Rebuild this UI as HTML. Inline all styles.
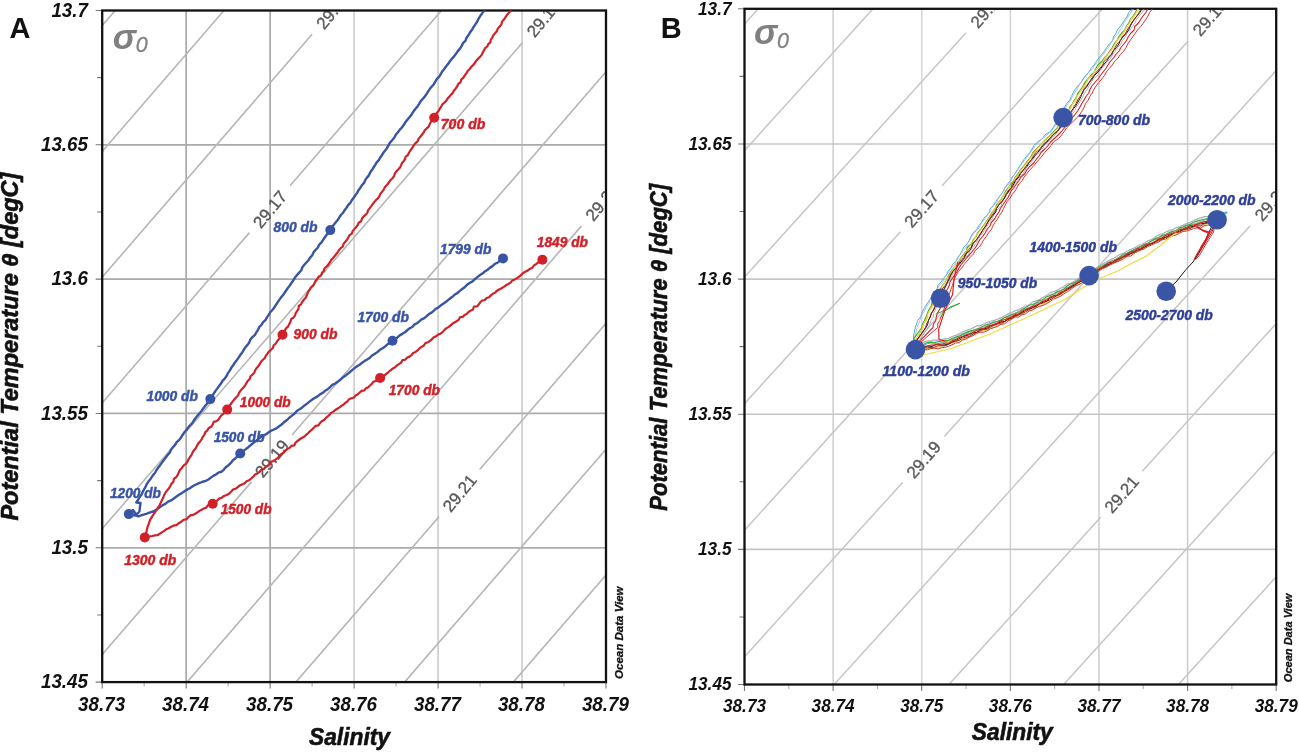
<!DOCTYPE html><html><head><meta charset="utf-8"><style>html,body{margin:0;padding:0;background:#fff;}svg{display:block;will-change:transform;}text{font-family:"Liberation Sans", sans-serif;}</style></head><body>
<svg width="1299" height="752" viewBox="0 0 1299 752">
<rect width="1299" height="752" fill="#fff"/>
<defs><clipPath id="clipA"><rect x="102.2" y="10.5" width="503.8" height="671.6"/></clipPath></defs>
<path d="M186.17 10.5V682.1" stroke="#acacac" stroke-width="1.8" fill="none"/>
<path d="M270.13 10.5V682.1" stroke="#acacac" stroke-width="1.8" fill="none"/>
<path d="M354.1 10.5V682.1" stroke="#cacaca" stroke-width="1.5" fill="none"/>
<path d="M438.07 10.5V682.1" stroke="#c8c8c8" stroke-width="1.5" fill="none"/>
<path d="M522.03 10.5V682.1" stroke="#c8c8c8" stroke-width="1.5" fill="none"/>
<path d="M102.2 144.82H606" stroke="#ababab" stroke-width="1.8" fill="none"/>
<path d="M102.2 279.14H606" stroke="#ababab" stroke-width="1.8" fill="none"/>
<path d="M102.2 413.46H606" stroke="#ababab" stroke-width="1.8" fill="none"/>
<path d="M102.2 547.78H606" stroke="#ababab" stroke-width="1.8" fill="none"/>
<g clip-path="url(#clipA)">
<path d="M102.2 25.57L115.23 10.5M102.2 151.37L223.98 10.5M102.2 277.16L312.11 34.35M102.2 402.96L249.46 232.62M290.01 185.72L441.49 10.5M102.2 528.75L522.68 42.38M102.2 654.55L251.47 481.88M292.02 434.98L606 71.8M187.13 682.1L581.32 226.14M295.89 682.1L439.13 516.4M479.68 469.5L606 323.39M404.64 682.1L606 449.18M513.39 682.1L606 574.98" stroke="#b6b6b6" stroke-width="1.6" fill="none"/>
<text transform="translate(333.04 10.14) rotate(-50.66)" x="0" y="6.12" text-anchor="middle" font-size="17" fill="#5a5a5a" stroke="#5a5a5a" stroke-width="0.35">29.16</text><text transform="translate(269.73 209.17) rotate(-50.66)" x="0" y="6.12" text-anchor="middle" font-size="17" fill="#5a5a5a" stroke="#5a5a5a" stroke-width="0.35">29.17</text><text transform="translate(543.61 18.17) rotate(-50.66)" x="0" y="6.12" text-anchor="middle" font-size="17" fill="#5a5a5a" stroke="#5a5a5a" stroke-width="0.35">29.18</text><text transform="translate(271.75 458.43) rotate(-50.66)" x="0" y="6.12" text-anchor="middle" font-size="17" fill="#5a5a5a" stroke="#5a5a5a" stroke-width="0.35">29.19</text><text transform="translate(602.25 201.93) rotate(-50.66)" x="0" y="6.12" text-anchor="middle" font-size="17" fill="#5a5a5a" stroke="#5a5a5a" stroke-width="0.35">29.20</text><text transform="translate(459.41 492.95) rotate(-50.66)" x="0" y="6.12" text-anchor="middle" font-size="17" fill="#5a5a5a" stroke="#5a5a5a" stroke-width="0.35">29.21</text>
</g>
<path d="M95.7 10.5H102.2M95.7 144.82H102.2M95.7 279.14H102.2M95.7 413.46H102.2M95.7 547.78H102.2M95.7 682.1H102.2M97.2 77.66H102.2M97.2 211.98H102.2M97.2 346.3H102.2M97.2 480.62H102.2M97.2 614.94H102.2M102.2 682.1V688.6M186.17 682.1V688.6M270.13 682.1V688.6M354.1 682.1V688.6M438.07 682.1V688.6M522.03 682.1V688.6M606 682.1V688.6" stroke="#777" stroke-width="1.1" fill="none"/>
<path d="M144.18 682.1V686.6M228.15 682.1V686.6M312.12 682.1V686.6M396.08 682.1V686.6M480.05 682.1V686.6M564.02 682.1V686.6" stroke="#aaa" stroke-width="1" fill="none"/>
<rect x="102.2" y="10.5" width="503.8" height="671.6" fill="none" stroke="#111" stroke-width="2.3"/>
<g font-weight="bold" font-style="italic" font-size="18.8" fill="#111"><text transform="translate(88 16.6) scale(1 1.1)" text-anchor="end">13.7</text><text transform="translate(88 150.92) scale(1 1.1)" text-anchor="end">13.65</text><text transform="translate(88 285.24) scale(1 1.1)" text-anchor="end">13.6</text><text transform="translate(88 419.56) scale(1 1.1)" text-anchor="end">13.55</text><text transform="translate(88 553.88) scale(1 1.1)" text-anchor="end">13.5</text><text transform="translate(88 688.2) scale(1 1.1)" text-anchor="end">13.45</text><text transform="translate(101.6 711.3) scale(1 1.1)" text-anchor="middle">38.73</text><text transform="translate(185.57 711.3) scale(1 1.1)" text-anchor="middle">38.74</text><text transform="translate(269.53 711.3) scale(1 1.1)" text-anchor="middle">38.75</text><text transform="translate(353.5 711.3) scale(1 1.1)" text-anchor="middle">38.76</text><text transform="translate(437.47 711.3) scale(1 1.1)" text-anchor="middle">38.77</text><text transform="translate(521.43 711.3) scale(1 1.1)" text-anchor="middle">38.78</text><text transform="translate(605.4 711.3) scale(1 1.1)" text-anchor="middle">38.79</text></g>
<text x="112.7" y="48.5" font-weight="bold" font-style="italic" font-size="35" fill="#808080">σ</text>
<text x="135.7" y="52.2" font-style="italic" font-size="21.5" fill="#808080" stroke="#808080" stroke-width="0.3">0</text>
<text transform="translate(622.5 679) rotate(-90)" font-weight="bold" font-style="italic" font-size="11.5" fill="#111" stroke="#111" stroke-width="0.3" textLength="92.6" lengthAdjust="spacingAndGlyphs">Ocean Data View</text>
<text x="349.5" y="745" text-anchor="middle" font-weight="bold" font-style="italic" font-size="23" fill="#111" stroke="#111" stroke-width="0.6" textLength="81" lengthAdjust="spacingAndGlyphs">Salinity</text>
<text transform="translate(18.1 346.6) rotate(-90)" text-anchor="middle" font-weight="bold" font-style="italic" font-size="23" fill="#111" stroke="#111" stroke-width="0.6" textLength="348" lengthAdjust="spacingAndGlyphs">Potential Temperature θ [degC]</text>
<text x="9.6" y="38" font-weight="bold" font-size="29" fill="#111">A</text>
<defs><clipPath id="clipB"><rect x="744.5" y="8.8" width="531.7" height="675.7"/></clipPath></defs>
<path d="M833.12 8.8V684.5" stroke="#cecece" stroke-width="1.5" fill="none"/>
<path d="M921.73 8.8V684.5" stroke="#d6d6d6" stroke-width="1.5" fill="none"/>
<path d="M1010.35 8.8V684.5" stroke="#d2d2d2" stroke-width="1.5" fill="none"/>
<path d="M1098.97 8.8V684.5" stroke="#cccccc" stroke-width="1.5" fill="none"/>
<path d="M1187.58 8.8V684.5" stroke="#cccccc" stroke-width="1.5" fill="none"/>
<path d="M744.5 143.94H1276.2" stroke="#c6c6c6" stroke-width="1.6" fill="none"/>
<path d="M744.5 279.08H1276.2" stroke="#c6c6c6" stroke-width="1.6" fill="none"/>
<path d="M744.5 414.22H1276.2" stroke="#c6c6c6" stroke-width="1.6" fill="none"/>
<path d="M744.5 549.36H1276.2" stroke="#c6c6c6" stroke-width="1.6" fill="none"/>
<g clip-path="url(#clipB)">
<path d="M744.5 23.96L758.25 8.8M744.5 150.52L873.03 8.8M744.5 277.09L966.05 32.78M744.5 403.65L900.5 231.63M942.15 185.71L1102.58 8.8M744.5 530.21L1188.27 40.88M744.5 656.78L902.61 482.43M944.26 436.51L1276.2 70.47M834.14 684.5L1250.13 225.78M948.91 684.5L1100.65 517.18M1142.3 471.25L1276.2 323.6M1063.69 684.5L1276.2 450.16M1178.46 684.5L1276.2 576.73" stroke="#c6c6c6" stroke-width="1.5" fill="none"/>
<text transform="translate(987.55 9.08) rotate(-49.3)" x="0" y="6.12" text-anchor="middle" font-size="17" fill="#5a5a5a" stroke="#5a5a5a" stroke-width="0.35">29.16</text><text transform="translate(921.32 208.67) rotate(-49.3)" x="0" y="6.12" text-anchor="middle" font-size="17" fill="#5a5a5a" stroke="#5a5a5a" stroke-width="0.35">29.17</text><text transform="translate(1209.76 17.17) rotate(-49.3)" x="0" y="6.12" text-anchor="middle" font-size="17" fill="#5a5a5a" stroke="#5a5a5a" stroke-width="0.35">29.18</text><text transform="translate(923.43 459.47) rotate(-49.3)" x="0" y="6.12" text-anchor="middle" font-size="17" fill="#5a5a5a" stroke="#5a5a5a" stroke-width="0.35">29.19</text><text transform="translate(1271.63 202.08) rotate(-49.3)" x="0" y="6.12" text-anchor="middle" font-size="17" fill="#5a5a5a" stroke="#5a5a5a" stroke-width="0.35">29.20</text><text transform="translate(1121.47 494.22) rotate(-49.3)" x="0" y="6.12" text-anchor="middle" font-size="17" fill="#5a5a5a" stroke="#5a5a5a" stroke-width="0.35">29.21</text>
</g>
<path d="M738 8.8H744.5M738 143.94H744.5M738 279.08H744.5M738 414.22H744.5M738 549.36H744.5M738 684.5H744.5M739.5 76.37H744.5M739.5 211.51H744.5M739.5 346.65H744.5M739.5 481.79H744.5M739.5 616.93H744.5M744.5 684.5V691M833.12 684.5V691M921.73 684.5V691M1010.35 684.5V691M1098.97 684.5V691M1187.58 684.5V691M1276.2 684.5V691" stroke="#777" stroke-width="1.1" fill="none"/>
<path d="M788.81 684.5V689M877.42 684.5V689M966.04 684.5V689M1054.66 684.5V689M1143.28 684.5V689M1231.89 684.5V689" stroke="#aaa" stroke-width="1" fill="none"/>
<rect x="744.5" y="8.8" width="531.7" height="675.7" fill="none" stroke="#111" stroke-width="2.3"/>
<g font-weight="bold" font-style="italic" font-size="17.2" fill="#111"><text transform="translate(731.5 14.5) scale(1 1.12)" text-anchor="end">13.7</text><text transform="translate(731.5 149.64) scale(1 1.12)" text-anchor="end">13.65</text><text transform="translate(731.5 284.78) scale(1 1.12)" text-anchor="end">13.6</text><text transform="translate(731.5 419.92) scale(1 1.12)" text-anchor="end">13.55</text><text transform="translate(731.5 555.06) scale(1 1.12)" text-anchor="end">13.5</text><text transform="translate(731.5 690.2) scale(1 1.12)" text-anchor="end">13.45</text><text transform="translate(744.5 711.7) scale(1 1.12)" text-anchor="middle">38.73</text><text transform="translate(833.12 711.7) scale(1 1.12)" text-anchor="middle">38.74</text><text transform="translate(921.73 711.7) scale(1 1.12)" text-anchor="middle">38.75</text><text transform="translate(1010.35 711.7) scale(1 1.12)" text-anchor="middle">38.76</text><text transform="translate(1098.97 711.7) scale(1 1.12)" text-anchor="middle">38.77</text><text transform="translate(1187.58 711.7) scale(1 1.12)" text-anchor="middle">38.78</text><text transform="translate(1276.2 711.7) scale(1 1.12)" text-anchor="middle">38.79</text></g>
<text x="754.1" y="44.1" font-weight="bold" font-style="italic" font-size="35" fill="#808080">σ</text>
<text x="777.1" y="47.8" font-style="italic" font-size="21.5" fill="#808080" stroke="#808080" stroke-width="0.3">0</text>
<text transform="translate(1291.8 682.2) rotate(-90)" font-weight="bold" font-style="italic" font-size="11" fill="#111" stroke="#111" stroke-width="0.3" textLength="88.6" lengthAdjust="spacingAndGlyphs">Ocean Data View</text>
<text x="1012.3" y="739.5" text-anchor="middle" font-weight="bold" font-style="italic" font-size="23" fill="#111" stroke="#111" stroke-width="0.6" textLength="81" lengthAdjust="spacingAndGlyphs">Salinity</text>
<text transform="translate(666.6 347.3) rotate(-90)" text-anchor="middle" font-weight="bold" font-style="italic" font-size="23" fill="#111" stroke="#111" stroke-width="0.6" textLength="327" lengthAdjust="spacingAndGlyphs">Potential Temperature θ [degC]</text>
<text x="660.7" y="38" font-weight="bold" font-size="29" fill="#111">B</text>
<g clip-path="url(#clipA)">
<path d="M484.1 10.5 L482.36 13.23 L480.35 15.78 L478.64 18.54 L477.27 21.5 L475.5 24.21 L473.7 26.9 L472.07 29.72 L470.1 32.32 L468.5 35.16 L466.59 37.8 L465.4 40.9 L462.94 43.19 L461.56 46.16 L459.8 48.9 L457.67 51.35 L455.83 54.04 L453.87 56.63 L451.71 59.06 L449.64 61.56 L447.84 64.27 L445.8 66.8 L444.06 69.27 L442.13 71.59 L440.68 74.26 L439.04 76.8 L436.89 78.96 L435.34 81.56 L433.82 84.19 L431.83 86.47 L429.9 88.8 L428.18 91.4 L426.51 94.05 L424.75 96.63 L422.62 98.94 L420.63 101.35 L419.04 104.05 L417.32 106.66 L415.28 109.03 L413.39 111.52 L411.78 114.21 L409.9 116.7 L407.8 119.22 L405.71 121.74 L403.97 124.53 L402.1 127.22 L399.88 129.65 L397.91 132.26 L395.75 134.73 L394.24 137.7 L392.12 140.2 L390 142.7 L388.18 145.89 L386.36 149.09 L383.97 151.91 L382 155 L380.23 157.44 L378.82 160.14 L376.72 162.36 L375.17 164.96 L373.55 167.5 L371.93 170.05 L370.15 172.49 L368.96 175.32 L366.89 177.57 L365.23 180.09 L364.06 182.94 L361.95 185.16 L360.41 187.76 L358.53 190.14 L357.12 192.83 L355.37 195.28 L353.7 197.8 L351.83 200.23 L350.28 202.9 L348.18 205.17 L346.52 207.75 L344.6 210.15 L343.01 212.78 L340.88 215.03 L339.18 217.59 L337.54 220.19 L335.57 222.55 L333.64 224.95 L331.74 227.35 L330.3 230.1 L328.78 232.83 L326.45 234.96 L324.7 237.52 L322.98 240.09 L321.33 242.72 L319.04 244.88 L317.71 247.75 L315.51 249.98 L313.52 252.36 L312.27 255.29 L310.18 257.59 L308.54 260.23 L306.4 262.5 L304.31 264.81 L302.37 267.23 L301.3 270.28 L299.22 272.6 L297.13 274.91 L295.12 277.27 L293.6 280 L291.74 282.43 L290.19 285.09 L288.2 287.44 L286.49 289.97 L284.75 292.49 L283.08 295.06 L281.07 297.39 L279.31 299.9 L277.61 302.45 L275.86 304.96 L274.3 307.61 L272.36 309.98 L270.23 312.23 L268.7 314.9 L266.96 317.42 L265.44 320.09 L263.09 322.18 L261.48 324.79 L259.38 327.06 L258.02 329.85 L256.34 332.42 L254.77 335.05 L252.42 337.14 L250.39 339.46 L249.3 342.44 L247.49 344.91 L245.46 347.22 L243.8 349.8 L242.21 352.51 L240.33 355.03 L238.58 357.63 L236.71 360.15 L234.76 362.62 L233.22 365.37 L231.27 367.83 L229.78 370.62 L227.86 373.11 L226.61 376.05 L224.71 378.55 L222.48 380.83 L221 383.61 L219 386.04 L217.24 388.64 L215.32 391.13 L213.66 393.8 L211.85 396.36 L210.3 399.1 L208.48 401.49 L206.76 403.96 L204.93 406.34 L203.04 408.68 L201.33 411.16 L199.38 413.45 L197.45 415.75 L195.54 418.08 L193.82 420.54 L192.3 423.16 L190.09 425.26 L188.19 427.59 L186.4 430 L184.31 432.34 L182.55 434.91 L180.92 437.6 L179.07 440.11 L176.65 442.2 L175.04 444.89 L172.95 447.23 L171.02 449.68 L169.75 452.62 L167.64 454.94 L165.75 457.43 L163.86 459.92 L162 462.42 L160.2 464.97 L158.33 467.47 L156.5 470 L154.89 472.97 L152.69 475.54 L150.89 478.39 L148.79 481.02 L146.9 483.8 L145.24 487.42 L143.23 490.86 L141.6 494.5 L139.66 497.05 L138 499.79 L136.3 502.5 L140.5 503 L139.92 507.24 L139.5 511.5 L136.3 514.7 L133 510 L128.8 514.1 L131.99 514.86 L135.23 515.46 L138.4 516.3 L142.64 514.91 L146.9 513.6 L150.06 512.43 L153.3 511.5 L156.55 509.45 L159.7 507.24 L162.9 505.1 L165.63 503.62 L168.03 501.62 L170.96 500.49 L173.5 498.7 L176.17 496.69 L178.95 494.85 L181.8 493.11 L184.6 491.3 L187.13 489.6 L189.84 488.21 L192.33 486.45 L195 485 L198.47 483.35 L202.06 482 L205.7 480.8 L208.44 479.51 L210.85 477.67 L213.26 475.84 L215.99 474.52 L218.35 472.61 L221.36 471.75 L223.7 469.8 L225.79 467.2 L228.5 465.23 L230.87 462.91 L232.87 460.23 L235.54 458.21 L238.02 456.01 L240.2 453.5 L242.7 451.64 L245.09 449.65 L247.62 447.83 L249.93 445.73 L252.38 443.82 L254.73 441.78 L257.27 439.97 L259.6 437.9 L262.32 436 L265.39 434.67 L268.06 432.69 L270.83 430.87 L273.86 429.48 L276.87 428.06 L279.5 426 L282.22 424.06 L284.54 421.65 L287.3 419.76 L289.68 417.41 L292.29 415.35 L294.89 413.27 L297.07 410.68 L300 409 L302.53 407.21 L304.85 405.14 L307.4 403.38 L309.78 401.4 L312.28 399.57 L314.86 397.86 L317.62 396.39 L320 394.4 L322.77 392.92 L325.05 390.77 L327.74 389.18 L330.08 387.09 L332.36 384.94 L335.19 383.54 L337.7 381.7 L340.53 379.59 L343.15 377.22 L346.03 375.16 L348.83 373.01 L351.5 370.7 L353.96 368.63 L356.46 366.6 L359.24 364.96 L361.83 363.06 L364.4 361.13 L367.19 359.5 L369.89 357.75 L372.17 355.42 L374.92 353.74 L377.55 351.89 L380 349.8 L382.6 348.14 L385.15 346.41 L387.44 344.32 L390.11 342.75 L392.5 340.8 L395.23 339.44 L397.49 337.43 L399.72 335.37 L402.34 333.85 L404.87 332.21 L407.18 330.26 L409.48 328.31 L412.22 326.96 L414.25 324.63 L416.94 323.22 L419.3 321.34 L421.57 319.34 L424.36 318.06 L426.67 316.11 L428.88 314.04 L431.58 312.63 L433.86 310.65 L436.08 308.58 L438.8 307.2 L441.06 305.21 L443.58 303.55 L446 301.78 L448.3 299.83 L450.65 297.96 L453.08 296.19 L455.35 294.21 L457.93 292.63 L460.14 290.58 L462.53 288.76 L464.94 286.96 L467.06 284.79 L469.48 283.01 L472.2 281.6 L474.38 279.52 L476.7 277.6 L479.29 275.62 L482.01 273.83 L484.52 271.74 L487.26 269.98 L489.75 267.87 L492.52 266.14 L494.88 263.84 L497.94 262.51 L500.29 260.22 L503 258.4" stroke="#3854a4" stroke-width="2.4" fill="none" stroke-linejoin="round" stroke-linecap="round"/>
<path d="M510.6 10.5 L508.99 12.8 L507.03 14.86 L505.52 17.23 L503.91 19.53 L502.01 21.63 L501.32 24.58 L499.52 26.74 L497.7 28.9 L496.82 31.34 L495.07 33.26 L493.36 35.19 L492.37 37.57 L490.86 39.63 L490.35 42.3 L488.32 44.04 L487.34 46.42 L485.1 48.03 L484.06 50.38 L482.71 52.53 L481.7 54.9 L479.98 56.9 L478.04 58.71 L476.29 60.69 L474.85 62.94 L473.16 64.97 L471.31 66.86 L469.72 68.97 L467.8 70.8 L466.44 73.16 L464.78 75.31 L463.37 77.63 L461.33 79.51 L460.55 82.28 L458.2 83.94 L457.12 86.5 L455.53 88.7 L453.8 90.8 L452.67 93.12 L450.73 94.81 L449.21 96.83 L447.52 98.71 L446.19 100.88 L444.44 102.71 L442.34 104.27 L441.23 106.61 L439.8 108.7 L438.59 111.07 L436.68 113 L435.64 115.48 L434.2 117.7 L432.47 119.69 L430.93 121.81 L429.71 124.17 L428.68 126.65 L426.63 128.41 L424.8 130.32 L423.56 132.66 L421.9 134.7 L420.2 136.86 L418.47 138.99 L417.41 141.59 L415.27 143.44 L413.59 145.61 L412.21 147.99 L410.63 150.22 L409.09 152.5 L407.9 155 L405.73 156.54 L404.98 159.06 L403.61 161.16 L401.98 163.07 L401.05 165.47 L399.83 167.67 L398.18 169.57 L396.34 171.34 L394.88 173.37 L394.11 175.88 L392.79 178.01 L390.85 179.71 L389.38 181.73 L387.9 183.75 L386.24 185.64 L384.63 187.57 L383.6 189.9 L381.99 191.91 L380.33 193.89 L379.35 196.37 L377.84 198.46 L375.85 200.19 L374.18 202.16 L372.62 204.21 L371.13 206.31 L369.54 208.34 L367.99 210.4 L367.28 213.08 L365.42 214.91 L363.5 216.69 L361.92 218.73 L361.07 221.3 L358.67 222.73 L357.65 225.18 L356.05 227.2 L354.35 229.15 L352.67 231.11 L351.83 233.7 L349.52 235.19 L348.28 237.47 L347.02 239.75 L345.32 241.7 L343.7 243.7 L342.86 246.31 L340.83 248.03 L339.02 249.92 L337.76 252.21 L336.1 254.21 L334.5 256.25 L332.9 258.29 L331.04 260.15 L329.84 262.48 L328.37 264.63 L326.58 266.52 L324.54 268.24 L323.78 270.9 L321.96 272.79 L321.09 275.37 L318.61 276.76 L317.29 279.01 L315.53 280.94 L314.44 283.35 L313.22 285.68 L311.06 287.3 L309.8 289.6 L307.99 292.05 L307 294.98 L305.66 297.7 L303.6 300 L302.13 302.08 L301.02 304.39 L298.75 305.98 L298.54 308.83 L297.19 310.98 L295.73 313.07 L294.94 315.57 L293.35 317.58 L291.17 319.23 L290.46 321.78 L289.3 324.05 L288.21 326.36 L286.26 328.15 L284.91 330.31 L283.73 332.57 L282.5 334.8 L280.9 337.02 L278.96 338.97 L277.21 341.08 L275.81 343.47 L273.68 345.27 L272.81 348.08 L270.83 350 L268.7 351.8 L267.32 353.94 L265.77 355.95 L264.63 358.26 L262.66 359.98 L260.95 361.88 L259.66 364.08 L258.25 366.2 L256.57 368.12 L255.23 370.28 L254.25 372.71 L252.46 374.55 L250.49 376.27 L249.8 378.9 L247.93 380.69 L246.59 382.86 L245.28 385.04 L243.83 387.13 L241.99 388.93 L240.44 390.95 L238.96 393.01 L238.04 395.49 L236.19 397.28 L234.5 399.2 L232.82 401.12 L231.43 403.25 L229.89 405.28 L228.33 407.28 L227.2 409.6 L225.12 411.21 L223.73 413.51 L221.63 415.1 L220 417.16 L218.62 419.48 L216.57 421.12 L213.66 421.89 L212.72 424.64 L211.18 426.8 L208.7 428 L207.47 430.36 L205.33 432.15 L204.42 434.72 L202.84 436.86 L201.63 439.25 L200.14 441.44 L198.25 443.39 L196.98 445.73 L195.85 448.16 L194.09 450.18 L192.59 452.38 L191.6 454.9 L190 457.03 L188.58 459.27 L187.46 461.71 L185.8 463.8 L183.5 465.55 L181.92 467.98 L179.9 470 L178.74 472.41 L177.73 474.92 L176.22 477.12 L173.89 478.83 L173.43 481.66 L171.52 483.63 L170.3 486 L168.82 488.46 L166.93 490.64 L165.3 492.99 L163.9 495.5 L163.13 498.02 L161.91 500.35 L160.71 502.68 L159.7 505.1 L158.06 507.47 L156.51 509.91 L155 512.37 L153.3 514.7 L151.64 517.42 L149.96 520.13 L149 523.2 L147.74 526.33 L146.9 529.6 L146.48 532.15 L145.35 534.49 L144.8 537 L148.5 536.52 L152.2 536 L154.75 535.44 L157.41 535.24 L159.7 533.8 L161.78 532.4 L163.95 531.15 L165.89 529.52 L168.2 528.5 L170.8 527.07 L173.4 525.65 L176.44 525.1 L178.8 523.2 L181.29 521.75 L183.53 519.91 L186.49 519.2 L188.5 517 L190.44 515.33 L193.07 514.88 L195.3 513.73 L197.41 512.36 L199.45 510.86 L201.68 509.7 L203.83 508.42 L206.25 507.6 L207.85 505.3 L210.4 504.73 L212.7 503.7 L215.02 502.26 L217.15 500.53 L219.17 498.62 L221.81 497.66 L223.99 496 L226.61 495.03 L229.03 493.74 L231.04 491.8 L232.89 489.64 L235.6 488.8 L237.74 487.19 L239.75 485.41 L242.3 484.39 L244.72 483.17 L246.58 481.18 L249.16 480.19 L251.22 478.48 L253.22 476.66 L255.04 474.61 L257.47 473.41 L259.6 471.8 L261.26 469.79 L263.87 468.97 L265.64 467.09 L267.95 465.89 L269.67 463.96 L271.11 461.68 L273.75 460.89 L275.82 459.39 L277.99 458.03 L279.33 455.61 L281.33 454.03 L283.57 452.75 L285.29 450.8 L287.2 449.11 L289.5 447.9 L291.29 445.94 L294.26 445.43 L295.47 442.77 L297.41 440.98 L299.58 439.5 L301.73 437.97 L304.09 436.71 L306.03 434.95 L308.03 433.24 L309.87 431.35 L311.93 429.72 L313.76 427.81 L315.58 425.88 L318.51 425.32 L320 423 L321.81 421.27 L324.09 420.09 L325.64 418.06 L327.6 416.5 L329.49 414.86 L331.07 412.86 L333.3 411.63 L335.2 410 L337.35 408.7 L339.5 407.39 L341.46 405.83 L343.62 404.54 L345.49 402.85 L347.47 401.3 L349.05 399.21 L351.42 398.22 L353.95 397.44 L355.66 395.52 L357.85 394.29 L359.66 392.5 L361.6 390.9 L364.27 390.33 L365.92 388.33 L368.22 387.24 L370.04 385.47 L371.89 383.75 L373.48 381.66 L376.06 380.97 L377.71 378.97 L380.1 378 L381.67 375.77 L384.57 375.33 L386.53 373.61 L388.58 372.04 L390.52 370.3 L392.58 368.73 L394.76 367.32 L396.78 365.69 L398.84 364.12 L401.07 362.78 L402.39 360.21 L405.27 359.73 L406.98 357.7 L409.41 356.62 L411.57 355.18 L413.16 352.98 L415.63 351.96 L417.7 350.4 L419.42 348.37 L421.54 346.88 L423.77 345.54 L425.28 343.23 L427.79 342.26 L430.02 340.91 L431.94 339.16 L433.74 337.24 L436.2 336.2 L438.13 334.57 L440.61 333.66 L442.59 332.09 L444.27 330.11 L446.13 328.38 L448.34 327.12 L450.37 325.61 L452.23 323.88 L454.33 322.47 L456.58 321.27 L458.68 319.85 L459.9 317.26 L462.74 316.84 L464.56 315.06 L466.83 313.87 L468.57 311.98 L470.7 310.62 L473.01 309.49 L473.93 306.5 L477.05 306.44 L478.74 304.48 L480.28 302.32 L482.1 300.54 L484.84 299.98 L486.54 298.04 L489.05 297.18 L490.88 295.41 L492.82 293.78 L495.12 292.63 L496.9 290.8 L499.19 289.46 L501.55 288.23 L503.81 286.85 L505.95 285.27 L508.29 284.01 L510.54 282.6 L512.32 280.46 L514.8 279.42 L517.1 278.1 L519.18 276.53 L521.23 274.91 L523.05 272.99 L525.4 271.78 L527.72 270.54 L529.8 268.96 L532.22 267.86 L533.82 265.64 L535.97 264.16 L538.05 262.58 L540.22 261.13 L542.4 259.7" stroke="#d22028" stroke-width="2.2" fill="none" stroke-linejoin="round" stroke-linecap="round"/>
</g>
<circle cx="330.3" cy="230.1" r="5" fill="#3854a4"/><circle cx="210.3" cy="399.1" r="5" fill="#3854a4"/><circle cx="128.8" cy="514.1" r="5" fill="#3854a4"/><circle cx="240.2" cy="453.5" r="5" fill="#3854a4"/><circle cx="392.5" cy="340.8" r="5" fill="#3854a4"/><circle cx="503" cy="258.4" r="5" fill="#3854a4"/>
<circle cx="434.2" cy="117.7" r="5" fill="#d22028"/><circle cx="282.5" cy="334.8" r="5" fill="#d22028"/><circle cx="227.2" cy="409.6" r="5" fill="#d22028"/><circle cx="144.8" cy="537.4" r="5" fill="#d22028"/><circle cx="212.7" cy="503.7" r="5" fill="#d22028"/><circle cx="380.1" cy="378" r="5" fill="#d22028"/><circle cx="542.4" cy="259.7" r="5" fill="#d22028"/>
<text x="273.5" y="231.7" font-weight="bold" font-style="italic" font-size="14" fill="#3854a4" stroke="#3854a4" stroke-width="0.45" textLength="43.9" lengthAdjust="spacingAndGlyphs">800 db</text>
<text x="146.5" y="401.3" font-weight="bold" font-style="italic" font-size="14" fill="#3854a4" stroke="#3854a4" stroke-width="0.45" textLength="51.4" lengthAdjust="spacingAndGlyphs">1000 db</text>
<text x="110" y="497.8" font-weight="bold" font-style="italic" font-size="14" fill="#3854a4" stroke="#3854a4" stroke-width="0.45" textLength="50.8" lengthAdjust="spacingAndGlyphs">1200 db</text>
<text x="213.7" y="441.5" font-weight="bold" font-style="italic" font-size="14" fill="#3854a4" stroke="#3854a4" stroke-width="0.45" textLength="50.8" lengthAdjust="spacingAndGlyphs">1500 db</text>
<text x="357.4" y="321.6" font-weight="bold" font-style="italic" font-size="14" fill="#3854a4" stroke="#3854a4" stroke-width="0.45" textLength="51.6" lengthAdjust="spacingAndGlyphs">1700 db</text>
<text x="440" y="253.6" font-weight="bold" font-style="italic" font-size="14" fill="#3854a4" stroke="#3854a4" stroke-width="0.45" textLength="51.3" lengthAdjust="spacingAndGlyphs">1799 db</text>
<text x="440.8" y="129.1" font-weight="bold" font-style="italic" font-size="14" fill="#d22028" stroke="#d22028" stroke-width="0.45" textLength="44.5" lengthAdjust="spacingAndGlyphs">700 db</text>
<text x="293.6" y="339.4" font-weight="bold" font-style="italic" font-size="14" fill="#d22028" stroke="#d22028" stroke-width="0.45" textLength="43.9" lengthAdjust="spacingAndGlyphs">900 db</text>
<text x="239.8" y="406.6" font-weight="bold" font-style="italic" font-size="14" fill="#d22028" stroke="#d22028" stroke-width="0.45" textLength="50.8" lengthAdjust="spacingAndGlyphs">1000 db</text>
<text x="124.2" y="565.3" font-weight="bold" font-style="italic" font-size="14" fill="#d22028" stroke="#d22028" stroke-width="0.45" textLength="52" lengthAdjust="spacingAndGlyphs">1300 db</text>
<text x="220.7" y="513.7" font-weight="bold" font-style="italic" font-size="14" fill="#d22028" stroke="#d22028" stroke-width="0.45" textLength="50.8" lengthAdjust="spacingAndGlyphs">1500 db</text>
<text x="388.7" y="395.1" font-weight="bold" font-style="italic" font-size="14" fill="#d22028" stroke="#d22028" stroke-width="0.45" textLength="51.3" lengthAdjust="spacingAndGlyphs">1700 db</text>
<text x="536.8" y="247.4" font-weight="bold" font-style="italic" font-size="14" fill="#d22028" stroke="#d22028" stroke-width="0.45" textLength="51.1" lengthAdjust="spacingAndGlyphs">1849 db</text>
<g clip-path="url(#clipB)" fill="none" stroke-linejoin="round">
<path d="M1132.52 9 L1128.5 12.5 L1127.56 16 L1124.84 19.5 L1122.61 23 L1120.44 26.5 L1117.35 30 L1115.87 33.5 L1113.31 37 L1112.92 40.5 L1109.24 44 L1106.71 47.5 L1104.46 51 L1101.68 54.5 L1098.79 58 L1096.37 61.5 L1094.04 65 L1091 68.5 L1088.82 72 L1085.58 75.5 L1082.96 79 L1080.93 82.5 L1077.76 86 L1075.1 89.5 L1073.13 93 L1071.34 96.5 L1069.86 100 L1066.75 103.5 L1064.65 107 L1063.1 110.5 L1060.21 114 L1058.53 117.5 L1057.11 121 L1055.02 124.5 L1052.85 128 L1050.29 131.5 L1044.71 135 L1042.45 138.5 L1037.55 142 L1033.85 145.5 L1032.17 149 L1029.81 152.5 L1026.73 156 L1023.89 159.5 L1021.83 163 L1019.28 166.5 L1017.62 170 L1015 173.5 L1012.43 177 L1010.53 180.5 L1007.62 184 L1004.97 187.5 L1003.33 191 L1000.98 194.5 L998.28 198 L995.68 201.5 L993.79 205 L990.23 208.5 L989.32 212 L986.78 215.5 L983.28 219 L981.5 222.5 L978.49 226 L976.72 229.5 L972.92 233 L970.94 236.5 L969.45 240 L967.43 243.5 L963.72 247 L962.25 250.5 L960.4 254 L957.75 257.5 L956.31 261 L952.6 264.5 L950.85 268 L947.77 271.5 L946.42 275 L943.36 278.5 L940.86 282 L937.92 285.5 L937.11 289 L934.35 292.5 L932.01 296 L929.85 299.5 L927.58 303 L925.3 306.5 L923.39 310 L921.55 313.5 L920.69 317 L917.63 320.5 L916.56 324 L915.23 327.5 L913.22 338 L918.4 345.75 L924 344.96 L927.5 343.68 L931 343 L934.5 343.31 L938 343.39 L941.5 342.72 L945 342.01 L948.5 340.88 L952 339.69 L955.5 337.98 L959 337 L962.5 334.81 L966 333.76 L969.5 332.18 L973 331.01 L976.5 329.53 L980 329.29 L983.5 327.53 L987 326.25 L990.5 323.37 L994 322.85 L997.5 321.44 L1001 320.56 L1004.5 317.64 L1008 317.53 L1011.5 315.82 L1015 313.09 L1018.5 311.57 L1022 309.99 L1025.5 308.71 L1029 307.31 L1032.5 306.27 L1036 303.5 L1039.5 302.17 L1043 300.13 L1046.5 299.09 L1050 296.87 L1053.5 295.39 L1057 292.53 L1060.5 291.17 L1064 288.88 L1067.5 287.87 L1071 285.44 L1074.5 282.96 L1078 280.84 L1081.5 279.21 L1085 276.63 L1088.5 274.47 L1092 272.8 L1095.5 271.34 L1099 267.76 L1102.5 265.69 L1106 263.64 L1109.5 261.79 L1113 260.86 L1116.5 259.24 L1120 257.09 L1123.5 255.46 L1127 253.59 L1130.5 251.84 L1134 249.37 L1137.5 248.13 L1141 246.66 L1144.5 244.53 L1148 242.95 L1151.5 241.07 L1155 239.56 L1158.5 238.37 L1162 236.22 L1165.5 234.85 L1169 233.8 L1172.5 232.24 L1176 231.23 L1179.5 228.05 L1183 228.02 L1186.5 226.09 L1190 225.05 L1193.5 224.04 L1197 222.91 L1200.5 221.72 L1204 220.16 L1212 218.1" stroke="#45b8c8" stroke-width="1.0" fill="none" stroke-linejoin="round" stroke-linecap="round"/>
<path d="M1133.55 9 L1130.74 12.5 L1128.51 16 L1126.65 19.5 L1123.75 23 L1122.68 26.5 L1119.88 30 L1118.12 33.5 L1114.84 37 L1112.39 40.5 L1110.35 44 L1108.32 47.5 L1105.43 51 L1103.26 54.5 L1100.37 58 L1098.38 61.5 L1094.64 65 L1092.69 68.5 L1089.22 72 L1086.36 75.5 L1083.75 79 L1080.82 82.5 L1078.7 86 L1076.93 89.5 L1074.43 93 L1072.53 96.5 L1070.87 100 L1068.15 103.5 L1066.01 107 L1063.69 110.5 L1061.02 114 L1060.07 117.5 L1056.93 121 L1056 124.5 L1053.68 128 L1051.35 131.5 L1046.86 135 L1042.57 138.5 L1039.15 142 L1035.36 145.5 L1032.94 149 L1030.44 152.5 L1027.78 156 L1025.17 159.5 L1022.31 163 L1020.05 166.5 L1016.82 170 L1015.36 173.5 L1012.53 177 L1011.24 180.5 L1008.99 184 L1005.21 187.5 L1003.82 191 L1001.35 194.5 L998.59 198 L996.95 201.5 L994.17 205 L991.26 208.5 L989.61 212 L987.24 215.5 L984.84 219 L981.72 222.5 L980.04 226 L977.57 229.5 L974.18 233 L971.92 236.5 L969.94 240 L967.49 243.5 L966.29 247 L963.35 250.5 L960.54 254 L958.38 257.5 L956.25 261 L954.83 264.5 L951.25 268 L948.93 271.5 L946.68 275 L944.03 278.5 L942.78 282 L939.25 285.5 L937.55 289 L935.02 292.5 L932.95 296 L929.87 299.5 L929.33 303 L926.68 306.5 L924.95 310 L922.71 313.5 L921.01 317 L919.84 320.5 L918.59 324 L917.04 327.5 L914.69 338.24 L917.2 344.25 L924 342.09 L927.5 341.35 L931 341.29 L934.5 340.75 L938 340.01 L941.5 339.95 L945 339.77 L948.5 338.43 L952 336.7 L955.5 335.72 L959 334.78 L962.5 332.37 L966 330.96 L969.5 329.47 L973 328.62 L976.5 325.93 L980 325.68 L983.5 324.81 L987 322.66 L990.5 322.45 L994 320.78 L997.5 319.04 L1001 318.02 L1004.5 315.57 L1008 314.35 L1011.5 313.76 L1015 310.87 L1018.5 310.44 L1022 307.91 L1025.5 306.74 L1029 304.64 L1032.5 301.94 L1036 300.93 L1039.5 299.51 L1043 297.14 L1046.5 295.29 L1050 294.3 L1053.5 292.08 L1057 289.85 L1060.5 288.54 L1064 287.29 L1067.5 284.72 L1071 283.38 L1074.5 281.67 L1078 279.02 L1081.5 276.52 L1085 274.47 L1088.5 273.07 L1092 271.18 L1095.5 268.55 L1099 266.32 L1102.5 263.92 L1106 262.47 L1109.5 260.33 L1113 258.61 L1116.5 256.39 L1120 254.48 L1123.5 253.18 L1127 251.11 L1130.5 249.39 L1134 248.39 L1137.5 246.3 L1141 245.91 L1144.5 243.28 L1148 240.84 L1151.5 239.73 L1155 237.8 L1158.5 235.59 L1162 234.78 L1165.5 232.43 L1169 229.89 L1172.5 230.12 L1176 227.97 L1179.5 227.41 L1183 224.98 L1186.5 223.28 L1190 223.05 L1193.5 220.41 L1197 219.62 L1200.5 218.88 L1204 216.98 L1212 216.3" stroke="#a8a8f0" stroke-width="0.8" fill="none" stroke-linejoin="round" stroke-linecap="round"/>
<path d="M1137.28 9 L1135.37 12.5 L1133.38 16 L1130.31 19.5 L1128.63 23 L1126.29 26.5 L1124.76 30 L1121.24 33.5 L1118.65 37 L1117.07 40.5 L1114.24 44 L1112.23 47.5 L1109.84 51 L1107.69 54.5 L1104.16 58 L1101.7 61.5 L1097.89 65 L1095.92 68.5 L1094.31 72 L1090.6 75.5 L1087.88 79 L1084.94 82.5 L1083.03 86 L1080.7 89.5 L1077.99 93 L1076.74 96.5 L1074.47 100 L1072.61 103.5 L1069.89 107 L1068.88 110.5 L1066.11 114 L1063.61 117.5 L1061.17 121 L1059.03 124.5 L1057.27 128 L1053.85 131.5 L1050.69 135 L1046.69 138.5 L1043.26 142 L1039.69 145.5 L1036.56 149 L1032.99 152.5 L1031.29 156 L1028.85 159.5 L1025.91 163 L1023.46 166.5 L1020.5 170 L1018.05 173.5 L1015.31 177 L1013.97 180.5 L1011.08 184 L1008.44 187.5 L1005.71 191 L1003.87 194.5 L1002.23 198 L999.42 201.5 L996.56 205 L995.27 208.5 L993.01 212 L990.48 215.5 L987.99 219 L985.75 222.5 L983.07 226 L980.71 229.5 L977.49 233 L976.04 236.5 L973.18 240 L971.7 243.5 L967.58 247 L966.44 250.5 L964.17 254 L961.18 257.5 L958.98 261 L956.55 264.5 L953.92 268 L950.97 271.5 L948.81 275 L947.02 278.5 L945.01 282 L942.46 285.5 L940.43 289 L938.46 292.5 L936.82 296 L933.85 299.5 L932.01 303 L931 306.5 L928.78 310 L927.35 313.5 L925.99 317 L924.54 320.5 L922.46 324 L921.93 327.5 L913.47 339.12 L918 345.25 L924 343.97 L927.5 342.56 L931 342.25 L934.5 342.66 L938 341.73 L941.5 341.1 L945 340.81 L948.5 340.33 L952 338.63 L955.5 337.18 L959 336.2 L962.5 333.94 L966 332.59 L969.5 331.1 L973 330.39 L976.5 328.99 L980 327.85 L983.5 325.98 L987 324.65 L990.5 323.84 L994 322 L997.5 321.28 L1001 319.85 L1004.5 317.55 L1008 316.16 L1011.5 314.48 L1015 313.66 L1018.5 312.38 L1022 309.51 L1025.5 307.89 L1029 305.2 L1032.5 304.64 L1036 302.78 L1039.5 300.54 L1043 299.62 L1046.5 296.8 L1050 295.64 L1053.5 294.04 L1057 291.65 L1060.5 290.84 L1064 288.94 L1067.5 285.82 L1071 283.78 L1074.5 282.66 L1078 280.35 L1081.5 277.79 L1085 276.18 L1088.5 274.24 L1092 271.92 L1095.5 270 L1099 267.45 L1102.5 266.13 L1106 264.17 L1109.5 262.08 L1113 260.49 L1116.5 258.82 L1120 256.77 L1123.5 254.12 L1127 253.28 L1130.5 251.16 L1134 250.13 L1137.5 247.71 L1141 246.18 L1144.5 244.36 L1148 243.24 L1151.5 240.83 L1155 238.9 L1158.5 237.43 L1162 235.5 L1165.5 234.28 L1169 232.71 L1172.5 231.34 L1176 230.6 L1179.5 228.06 L1183 226.87 L1186.5 225.39 L1190 224.41 L1193.5 222.21 L1197 221.15 L1200.5 220.23 L1204 219.28 L1212 217.5" stroke="#3caa3c" stroke-width="1.2" fill="none" stroke-linejoin="round" stroke-linecap="round"/>
<path d="M1137.9 9 L1135.7 12.5 L1133.21 16 L1131.51 19.5 L1129.6 23 L1126.77 26.5 L1124.38 30 L1122.17 33.5 L1119.22 37 L1117.17 40.5 L1114.87 44 L1112.79 47.5 L1110.32 51 L1107.17 54.5 L1105.52 58 L1103.07 61.5 L1099.48 65 L1097.06 68.5 L1094.3 72 L1091.82 75.5 L1088.09 79 L1086.77 82.5 L1083.13 86 L1081.75 89.5 L1079.13 93 L1076.84 96.5 L1074.87 100 L1073.25 103.5 L1070.37 107 L1068.51 110.5 L1066.28 114 L1063.43 117.5 L1062.49 121 L1059.87 124.5 L1057.31 128 L1054.93 131.5 L1050.22 135 L1046.87 138.5 L1043.93 142 L1040.27 145.5 L1036.07 149 L1032.82 152.5 L1031.14 156 L1029.42 159.5 L1026.05 163 L1023.53 166.5 L1021.39 170 L1018.21 173.5 L1016.2 177 L1014.07 180.5 L1011.57 184 L1009.19 187.5 L1006.38 191 L1004.52 194.5 L1001.73 198 L1000.14 201.5 L998.38 205 L994.65 208.5 L991.75 212 L990.22 215.5 L988.19 219 L986.11 222.5 L983.73 226 L980.44 229.5 L977.91 233 L976.37 236.5 L973.01 240 L971.69 243.5 L968.81 247 L966.86 250.5 L964.42 254 L962.03 257.5 L959.49 261 L956.1 264.5 L954.11 268 L951.54 271.5 L949.35 275 L947.46 278.5 L944.68 282 L942.5 285.5 L940.5 289 L938.7 292.5 L937.19 296 L934.5 299.5 L933.69 303 L931.65 306.5 L929.77 310 L927.63 313.5 L926.69 317 L925.28 320.5 L922.81 324 L922.77 327.5 L917.13 339.24 L918.8 346.25 L924 345.84 L927.5 345.43 L931 345.82 L934.5 344.81 L938 343.37 L941.5 343.29 L945 342.75 L948.5 341.85 L952 339.39 L955.5 339.33 L959 337.24 L962.5 336.14 L966 334.54 L969.5 333.53 L973 331.54 L976.5 329.96 L980 329.26 L983.5 328.36 L987 326.28 L990.5 325.74 L994 323.94 L997.5 322.29 L1001 321.81 L1004.5 319.09 L1008 318.26 L1011.5 315.91 L1015 314.68 L1018.5 312.26 L1022 310.77 L1025.5 309.97 L1029 307.91 L1032.5 306.17 L1036 304.19 L1039.5 302.83 L1043 300.23 L1046.5 298.6 L1050 297.27 L1053.5 295.2 L1057 293.5 L1060.5 292.02 L1064 289.96 L1067.5 287.85 L1071 286.62 L1074.5 284.25 L1078 282.27 L1081.5 279.63 L1085 277.34 L1088.5 274.84 L1092 273.03 L1095.5 269.89 L1099 268.21 L1102.5 266.88 L1106 265.5 L1109.5 263.44 L1113 260.86 L1116.5 259.7 L1120 257.36 L1123.5 256.32 L1127 254.14 L1130.5 252.82 L1134 251.87 L1137.5 249.41 L1141 248.33 L1144.5 245.64 L1148 243.69 L1151.5 242.72 L1155 241.18 L1158.5 238.44 L1162 237.14 L1165.5 234.99 L1169 234.07 L1172.5 233.08 L1176 231.17 L1179.5 229.48 L1183 227.79 L1186.5 227.31 L1190 226.22 L1193.5 224.85 L1197 223.5 L1200.5 221.69 L1204 221.93 L1212 218.7" stroke="#f0a030" stroke-width="0.8" fill="none" stroke-linejoin="round" stroke-linecap="round"/>
<path d="M1138.51 9 L1136.47 12.5 L1134.54 16 L1130.9 19.5 L1129.51 23 L1127.15 26.5 L1125.05 30 L1123.15 33.5 L1120.43 37 L1117.06 40.5 L1115.4 44 L1113.31 47.5 L1110.96 51 L1107.7 54.5 L1104.82 58 L1103.11 61.5 L1100.31 65 L1097.43 68.5 L1093.96 72 L1092.83 75.5 L1088.01 79 L1086.45 82.5 L1084.84 86 L1081.68 89.5 L1079.77 93 L1077.05 96.5 L1076.12 100 L1072.84 103.5 L1071.46 107 L1069.32 110.5 L1066.59 114 L1065.14 117.5 L1061.77 121 L1059.78 124.5 L1057.74 128 L1054.64 131.5 L1051.31 135 L1047.79 138.5 L1043.52 142 L1040.09 145.5 L1037.33 149 L1034.62 152.5 L1032.43 156 L1029.28 159.5 L1026.88 163 L1024 166.5 L1021.13 170 L1019.38 173.5 L1016 177 L1014.07 180.5 L1012.38 184 L1008.87 187.5 L1006.98 191 L1003.92 194.5 L1002.03 198 L999.22 201.5 L997.41 205 L995.09 208.5 L993.15 212 L991.5 215.5 L988.54 219 L986.33 222.5 L983.64 226 L981.11 229.5 L978.32 233 L975.42 236.5 L973.95 240 L972.35 243.5 L969.53 247 L966.67 250.5 L965.22 254 L961.84 257.5 L959.18 261 L956.33 264.5 L953.86 268 L951.74 271.5 L950.44 275 L947.15 278.5 L944.7 282 L942.94 285.5 L941.16 289 L938.54 292.5 L937.41 296 L935.71 299.5 L933.87 303 L932.36 306.5 L929.88 310 L928.07 313.5 L927.79 317 L926.11 320.5 L923.56 324 L922.99 327.5 L915.75 339.36 L920.2 348 L924 349.36 L927.5 348.69 L931 347.85 L934.5 347.64 L938 347.11 L941.5 346.49 L945 345.16 L948.5 343.72 L952 343.25 L955.5 341.41 L959 340.79 L962.5 339.54 L966 337.87 L969.5 336.12 L973 334.85 L976.5 333.96 L980 331.76 L983.5 331.16 L987 329.72 L990.5 328.17 L994 327.36 L997.5 325.04 L1001 324.35 L1004.5 321.84 L1008 320.25 L1011.5 318.46 L1015 317.48 L1018.5 315.19 L1022 313.97 L1025.5 311.78 L1029 311.1 L1032.5 309.77 L1036 307.29 L1039.5 306.16 L1043 303.91 L1046.5 302.88 L1050 300.18 L1053.5 297.67 L1057 297.28 L1060.5 294.79 L1064 292.28 L1067.5 290.29 L1071 287.69 L1074.5 286.18 L1078 283.61 L1081.5 282.6 L1085 280.07 L1088.5 276.86 L1092 274.6 L1095.5 272.67 L1099 269.71 L1102.5 268.6 L1106 266.89 L1109.5 264.82 L1113 263.18 L1116.5 261.9 L1120 260.57 L1123.5 258.86 L1127 256.46 L1130.5 255.09 L1134 252.68 L1137.5 251.5 L1141 249.18 L1144.5 248.25 L1148 245.66 L1151.5 244.09 L1155 242.82 L1158.5 241.38 L1162 238.93 L1165.5 237.89 L1169 236.75 L1172.5 235.35 L1176 233.42 L1179.5 232.4 L1183 231.06 L1186.5 230.69 L1190 229.18 L1193.5 227.21 L1197 225.77 L1200.5 225.84 L1204 225.36 L1212 220.8" stroke="#e8d83a" stroke-width="1.1" fill="none" stroke-linejoin="round" stroke-linecap="round"/>
<path d="M1143.92 9 L1142.2 12.5 L1139.22 16 L1136.45 19.5 L1135.03 23 L1132.36 26.5 L1130.25 30 L1126.95 33.5 L1125.28 37 L1122.55 40.5 L1120.82 44 L1117.82 47.5 L1115.44 51 L1112.83 54.5 L1110.96 58 L1107.71 61.5 L1104.65 65 L1101.83 68.5 L1099.12 72 L1097.55 75.5 L1093.37 79 L1091.11 82.5 L1089.08 86 L1087.19 89.5 L1084.53 93 L1082.9 96.5 L1080.83 100 L1078.87 103.5 L1076.39 107 L1075.06 110.5 L1072.1 114 L1070.08 117.5 L1066.28 121 L1064.58 124.5 L1060.98 128 L1057.87 131.5 L1055.25 135 L1051.14 138.5 L1048.2 142 L1044.25 145.5 L1042.51 149 L1038.86 152.5 L1035.5 156 L1033.31 159.5 L1030.84 163 L1027.34 166.5 L1025.23 170 L1023.24 173.5 L1020.02 177 L1017.17 180.5 L1014.54 184 L1012.68 187.5 L1009.35 191 L1006.28 194.5 L1004.96 198 L1002.38 201.5 L1001.35 205 L998.46 208.5 L995.79 212 L993.51 215.5 L992.02 219 L989.18 222.5 L987.05 226 L984.9 229.5 L982.49 233 L980.02 236.5 L977.66 240 L975.83 243.5 L973.65 247 L969.59 250.5 L968.89 254 L965.2 257.5 L963.01 261 L959.43 264.5 L957.22 268 L954.74 271.5 L952.49 275 L950.63 278.5 L948.65 282 L946.26 285.5 L945 289 L943.72 292.5 L942.04 296 L939.92 299.5 L938.45 303 L937.03 306.5 L935.14 310 L933.58 313.5 L933.4 317 L931.07 320.5 L930.01 324 L928.35 327.5 L919.17 340.4 L917 344 L924 342.1 L927.5 340.79 L931 340.7 L934.5 339.7 L938 340.41 L941.5 339.61 L945 338.4 L948.5 338.47 L952 336.6 L955.5 335.16 L959 333.67 L962.5 331.75 L966 330.34 L969.5 329.4 L973 327.63 L976.5 325.92 L980 326.02 L983.5 323.78 L987 322.38 L990.5 321.08 L994 320.47 L997.5 319.35 L1001 317.67 L1004.5 316.28 L1008 313.56 L1011.5 312.4 L1015 310.69 L1018.5 309.25 L1022 307.8 L1025.5 305 L1029 305.66 L1032.5 302.19 L1036 300.97 L1039.5 299.42 L1043 297.67 L1046.5 295.64 L1050 292.45 L1053.5 291.51 L1057 290.58 L1060.5 288.06 L1064 286.07 L1067.5 283.52 L1071 283.16 L1074.5 280.88 L1078 278.29 L1081.5 276.66 L1085 274.72 L1088.5 272.29 L1092 270.37 L1095.5 268.26 L1099 266.04 L1102.5 264.4 L1106 262.06 L1109.5 260.04 L1113 258.64 L1116.5 256.39 L1120 254.31 L1123.5 253.6 L1127 251.12 L1130.5 249.56 L1134 248.06 L1137.5 245.52 L1141 244.57 L1144.5 242.74 L1148 240.74 L1151.5 239.22 L1155 236.96 L1158.5 234.56 L1162 233.82 L1165.5 232.02 L1169 231.31 L1172.5 229.52 L1176 227.65 L1179.5 226.4 L1183 225.5 L1186.5 223.92 L1190 222.09 L1193.5 220.64 L1197 218.93 L1200.5 217.67 L1204 216.67 L1212 216" stroke="#a0a0a0" stroke-width="0.8" fill="none" stroke-linejoin="round" stroke-linecap="round"/>
<path d="M1141.75 9 L1139.92 12.5 L1136.93 16 L1134.32 19.5 L1131.95 23 L1130.16 26.5 L1128.6 30 L1126.18 33.5 L1122.84 37 L1120.23 40.5 L1118.93 44 L1116.43 47.5 L1113.25 51 L1111.72 54.5 L1108.62 58 L1106.44 61.5 L1103.29 65 L1100.83 68.5 L1097.88 72 L1094.6 75.5 L1092.22 79 L1089.31 82.5 L1087.29 86 L1084.33 89.5 L1082.02 93 L1080.95 96.5 L1079.09 100 L1077.16 103.5 L1074.94 107 L1071.7 110.5 L1069.8 114 L1067.36 117.5 L1065.09 121 L1061.62 124.5 L1060.08 128 L1057.24 131.5 L1053.09 135 L1049.97 138.5 L1046.86 142 L1043.06 145.5 L1040.64 149 L1037.74 152.5 L1034.67 156 L1031.91 159.5 L1028.83 163 L1026.83 166.5 L1023.44 170 L1020.71 173.5 L1018.72 177 L1015.64 180.5 L1013.79 184 L1011.71 187.5 L1008.9 191 L1006.53 194.5 L1004.51 198 L1002.06 201.5 L998.71 205 L996.62 208.5 L995.62 212 L992.95 215.5 L989.55 219 L987.58 222.5 L985.91 226 L983.06 229.5 L981.21 233 L978.56 236.5 L976.4 240 L973.32 243.5 L971.78 247 L969.89 250.5 L966.11 254 L964.53 257.5 L961.74 261 L958.93 264.5 L955.97 268 L953.03 271.5 L950.92 275 L949.42 278.5 L947.57 282 L945.91 285.5 L944.01 289 L942.22 292.5 L939.84 296 L937.72 299.5 L936.79 303 L935.39 306.5 L933.67 310 L931.42 313.5 L930.34 317 L928.41 320.5 L927.83 324 L925.98 327.5 L916.86 340 L919.4 347 L924 347.31 L927.5 346.73 L931 346.79 L934.5 345.18 L938 344.2 L941.5 345.11 L945 344.83 L948.5 343.93 L952 341.95 L955.5 340.6 L959 338.95 L962.5 336.84 L966 335.7 L969.5 334.72 L973 332.77 L976.5 332.53 L980 329.66 L983.5 328.84 L987 328.21 L990.5 326.12 L994 324.57 L997.5 323.14 L1001 322.01 L1004.5 321.36 L1008 319.2 L1011.5 317.58 L1015 315.46 L1018.5 314.41 L1022 312.41 L1025.5 310.29 L1029 308.84 L1032.5 307.45 L1036 306.13 L1039.5 303.81 L1043 302.3 L1046.5 301.22 L1050 298.19 L1053.5 296.23 L1057 295.47 L1060.5 293.46 L1064 291.16 L1067.5 289.21 L1071 286.83 L1074.5 285.1 L1078 282.6 L1081.5 281 L1085 278 L1088.5 276.05 L1092 274.15 L1095.5 271.53 L1099 269.7 L1102.5 267.44 L1106 265.46 L1109.5 264.04 L1113 261.96 L1116.5 259.74 L1120 258.17 L1123.5 256.57 L1127 254.96 L1130.5 253.47 L1134 252.12 L1137.5 250.25 L1141 249.1 L1144.5 247.16 L1148 244.79 L1151.5 243.91 L1155 241.99 L1158.5 239.55 L1162 238.32 L1165.5 237.22 L1169 235.37 L1172.5 234.26 L1176 232.52 L1179.5 231.2 L1183 229.49 L1186.5 228.58 L1190 227.03 L1193.5 226.29 L1197 224.1 L1200.5 223.95 L1204 223.3 L1208 222 L1212 226 L1209 232 L1204 244 L1198 254 L1193 262 L1186 269.5 L1176 282 L1166 291" stroke="#1a1a1a" stroke-width="1.0" fill="none" stroke-linejoin="round" stroke-linecap="round"/>
<path d="M1141.27 9 L1138.98 12.5 L1136.88 16 L1133.91 19.5 L1131.57 23 L1129.43 26.5 L1127.17 30 L1125.32 33.5 L1122.14 37 L1120.64 40.5 L1117.13 44 L1115.13 47.5 L1113.12 51 L1111.04 54.5 L1107.54 58 L1104.15 61.5 L1102.6 65 L1099.69 68.5 L1096.51 72 L1093.82 75.5 L1091.27 79 L1088.93 82.5 L1086.48 86 L1083.37 89.5 L1083 93 L1079.88 96.5 L1077.66 100 L1076.06 103.5 L1073.73 107 L1072.67 110.5 L1069.86 114 L1066.74 117.5 L1064.27 121 L1061.76 124.5 L1059.37 128 L1056.86 131.5 L1052.64 135 L1050.03 138.5 L1045.63 142 L1042.31 145.5 L1039.95 149 L1035.79 152.5 L1033.47 156 L1031.44 159.5 L1028.44 163 L1025.73 166.5 L1023.31 170 L1020.26 173.5 L1017.86 177 L1014.9 180.5 L1012.3 184 L1011.35 187.5 L1007.99 191 L1005.71 194.5 L1004.28 198 L1001.75 201.5 L998.72 205 L996.51 208.5 L994.51 212 L991.86 215.5 L990.22 219 L987.73 222.5 L985.41 226 L983.28 229.5 L980.76 233 L978.79 236.5 L976.31 240 L972.53 243.5 L971.37 247 L967.99 250.5 L965.34 254 L963.79 257.5 L960.53 261 L958.07 264.5 L956.06 268 L952.84 271.5 L950.47 275 L948.78 278.5 L947.2 282 L945.07 285.5 L942.31 289 L940.9 292.5 L939.31 296 L938.43 299.5 L936.37 303 L934.79 306.5 L933.39 310 L931.16 313.5 L929.96 317 L928.44 320.5 L926.45 324 L925.56 327.5 L917.28 339.84 L919.8 347.5 L924 347.66 L927.5 348.01 L931 347.48 L934.5 347.09 L938 345.77 L941.5 345.66 L945 345.76 L948.5 344.55 L952 342.37 L955.5 341.36 L959 340.43 L962.5 338.3 L966 337.04 L969.5 336.56 L973 333.92 L976.5 332.52 L980 330.78 L983.5 329.6 L987 329.23 L990.5 327.17 L994 325.37 L997.5 324.15 L1001 323.14 L1004.5 321.82 L1008 319.48 L1011.5 318.47 L1015 316.27 L1018.5 314.99 L1022 313.4 L1025.5 311.77 L1029 309.64 L1032.5 308.08 L1036 306.62 L1039.5 304.05 L1043 302.95 L1046.5 301.34 L1050 299.81 L1053.5 297.57 L1057 295.74 L1060.5 294.12 L1064 291.64 L1067.5 289.74 L1071 287.88 L1074.5 285.68 L1078 282.95 L1081.5 281.14 L1085 278.19 L1088.5 277.37 L1092 274.44 L1095.5 272.43 L1099 269.48 L1102.5 268.01 L1106 266.5 L1109.5 264.99 L1113 262.18 L1116.5 261.42 L1120 259.22 L1123.5 257.2 L1127 256.01 L1130.5 253.92 L1134 252.21 L1137.5 250.33 L1141 249.04 L1144.5 247.25 L1148 245.45 L1151.5 243.4 L1155 241.89 L1158.5 240.6 L1162 239.44 L1165.5 237.4 L1169 236.59 L1172.5 234.5 L1176 232.56 L1179.5 231.88 L1183 229.95 L1186.5 229.4 L1190 228.53 L1193.5 226.73 L1197 225.75 L1200.5 225.89 L1204 223.87 L1208 223 L1214 226 L1212 232 L1205 243 L1198 255 L1195 259.5" stroke="#8b1a1a" stroke-width="0.9" fill="none" stroke-linejoin="round" stroke-linecap="round"/>
<path d="M1147.62 9 L1145.8 12.5 L1143 16 L1140.6 19.5 L1138.42 23 L1134.77 26.5 L1134.08 30 L1130.56 33.5 L1128.16 37 L1126.48 40.5 L1123.85 44 L1120.88 47.5 L1119.13 51 L1115.91 54.5 L1113.41 58 L1110.35 61.5 L1107.96 65 L1105.82 68.5 L1103 72 L1100.39 75.5 L1097.97 79 L1094.84 82.5 L1091.87 86 L1089.92 89.5 L1088.75 93 L1085.98 96.5 L1084.07 100 L1081.85 103.5 L1079.96 107 L1078 110.5 L1075.41 114 L1072.53 117.5 L1069.43 121 L1066.58 124.5 L1064.33 128 L1061.43 131.5 L1058.13 135 L1054.37 138.5 L1050.61 142 L1048.02 145.5 L1044.96 149 L1040.96 152.5 L1039.06 156 L1036.11 159.5 L1033.75 163 L1029.66 166.5 L1026.8 170 L1024.93 173.5 L1020.98 177 L1018.95 180.5 L1016.4 184 L1014.03 187.5 L1011.24 191 L1009.58 194.5 L1007.72 198 L1005.08 201.5 L1002.78 205 L1000.32 208.5 L999.02 212 L996.48 215.5 L994.56 219 L991.24 222.5 L989.94 226 L986.96 229.5 L985.15 233 L982.61 236.5 L979.61 240 L977.79 243.5 L975.82 247 L972.87 250.5 L970.2 254 L966.84 257.5 L964.17 261 L961.21 264.5 L959.01 268 L957.05 271.5 L954.58 275 L952.26 278.5 L950.03 282 L949.27 285.5 L947.51 289 L945.31 292.5 L943.93 296 L943.1 299.5 L941.47 303 L941.26 306.5 L939.17 310 L937.33 313.5 L936.22 317 L935.81 320.5 L933.44 324 L932.98 327.5 L919.68 341.12 L919 346.5 L924 346.83 L927.5 345.93 L931 345.03 L934.5 344.96 L938 344.27 L941.5 344.2 L945 343.25 L948.5 343.26 L952 340.86 L955.5 339.64 L959 337.69 L962.5 336.57 L966 335.06 L969.5 333.66 L973 332.53 L976.5 330.53 L980 329.09 L983.5 328.66 L987 326.73 L990.5 325.25 L994 324.76 L997.5 323.29 L1001 320.35 L1004.5 319.7 L1008 318.56 L1011.5 316.92 L1015 314.65 L1018.5 313.92 L1022 311.2 L1025.5 309.79 L1029 308.29 L1032.5 306.55 L1036 305.16 L1039.5 303.49 L1043 301.25 L1046.5 300.14 L1050 297.44 L1053.5 295.89 L1057 294.99 L1060.5 292.51 L1064 290.9 L1067.5 288.14 L1071 286.13 L1074.5 284.11 L1078 282.15 L1081.5 279.83 L1085 277.91 L1088.5 276.11 L1092 274.04 L1095.5 271.19 L1099 269.08 L1102.5 267.26 L1106 264.61 L1109.5 262.63 L1113 262.3 L1116.5 260.4 L1120 258.07 L1123.5 256.44 L1127 254.1 L1130.5 252.15 L1134 251.2 L1137.5 248.67 L1141 248.03 L1144.5 245.61 L1148 244.32 L1151.5 243.35 L1155 241.61 L1158.5 238.93 L1162 237.95 L1165.5 235.54 L1169 234.27 L1172.5 233.23 L1176 232.21 L1179.5 229.87 L1183 229.08 L1186.5 227.62 L1190 225.75 L1193.5 224.99 L1197 224.55 L1200.5 222.74 L1204 221.9 L1208 221 L1213.52 226 L1210.4 232 L1203.4 243 L1196.4 255 L1194.2 259.5" stroke="#d62020" stroke-width="1.1" fill="none" stroke-linejoin="round" stroke-linecap="round"/>
<path d="M1152.38 9 L1149.6 12.5 L1148.04 16 L1145.73 19.5 L1143.34 23 L1140.77 26.5 L1137.54 30 L1135.05 33.5 L1132.53 37 L1130.04 40.5 L1127.65 44 L1126.02 47.5 L1123.79 51 L1120.23 54.5 L1118.19 58 L1114.57 61.5 L1112.3 65 L1109.31 68.5 L1106.34 72 L1104.41 75.5 L1101.73 79 L1098.82 82.5 L1096.08 86 L1093.78 89.5 L1092.14 93 L1089.91 96.5 L1088.27 100 L1085.6 103.5 L1084.22 107 L1082.33 110.5 L1080.16 114 L1077.01 117.5 L1073.57 121 L1070.11 124.5 L1066.53 128 L1064.23 131.5 L1061.68 135 L1058.59 138.5 L1053.51 142 L1051.12 145.5 L1048.11 149 L1044.6 152.5 L1042.11 156 L1039.12 159.5 L1035.94 163 L1033.23 166.5 L1029.6 170 L1026.95 173.5 L1024.05 177 L1022.31 180.5 L1018.76 184 L1016.97 187.5 L1015 191 L1012.21 194.5 L1010.18 198 L1007.1 201.5 L1005.3 205 L1003.47 208.5 L1002.02 212 L999.31 215.5 L997.58 219 L994.9 222.5 L992.9 226 L991.31 229.5 L988.41 233 L986.32 236.5 L983.54 240 L981.71 243.5 L979.37 247 L975.15 250.5 L973.52 254 L970.03 257.5 L967.2 261 L964.09 264.5 L961.61 268 L958.36 271.5 L956.49 275 L954.44 278.5 L953.35 282 L952.43 285.5 L951.14 289 L949.76 292.5 L948.13 296 L946.39 299.5 L946.14 303 L944.8 306.5 L943.67 310 L942.93 313.5 L940.98 317 L939.76 320.5 L937.64 324 L937.76 327.5 L920.98 342 L920.6 348.5 L924 349.77 L927.5 349.75 L931 348.57 L934.5 348.27 L938 348.86 L941.5 347.79 L945 347.33 L948.5 346.32 L952 344.81 L955.5 343.14 L959 342.62 L962.5 340.09 L966 338.99 L969.5 337.1 L973 335.57 L976.5 333.24 L980 332.11 L983.5 332.32 L987 330.93 L990.5 328.7 L994 327.53 L997.5 326.46 L1001 324.29 L1004.5 323.87 L1008 320.94 L1011.5 319.42 L1015 316.84 L1018.5 317.1 L1022 314.78 L1025.5 313.83 L1029 310.98 L1032.5 309.91 L1036 308.03 L1039.5 306.32 L1043 305.4 L1046.5 303.73 L1050 301.56 L1053.5 299 L1057 297.82 L1060.5 296.26 L1064 293.78 L1067.5 291.6 L1071 289.37 L1074.5 286.56 L1078 284.89 L1081.5 283.31 L1085 279.96 L1088.5 278.25 L1092 276.26 L1095.5 272.92 L1099 271.12 L1102.5 268.5 L1106 267.25 L1109.5 265.15 L1113 263.64 L1116.5 262.09 L1120 260.45 L1123.5 258.74 L1127 256.01 L1130.5 256.08 L1134 253.54 L1137.5 251.48 L1141 250 L1144.5 248.73 L1148 246.45 L1151.5 245.02 L1155 243.31 L1158.5 242.07 L1162 239.94 L1165.5 239.05 L1169 237.57 L1172.5 235.91 L1176 235.1 L1179.5 233.11 L1183 231.44 L1186.5 231.02 L1190 229.86 L1193.5 228.7 L1197 227.83 L1200.5 227.86 L1204 225.98 L1208 225 L1214.48 226 L1213.6 232 L1206.6 243 L1199.6 255 L1195.8 259.5" stroke="#e03030" stroke-width="1.0" fill="none" stroke-linejoin="round" stroke-linecap="round"/>
<path d="M918 356 L950 349 L990 334 L1030 316 L1065.9 299 L1083.2 287.5 L1100 278.3 L1117.8 271 L1130 264.3 L1145 256.9 L1160 245.7 L1170 237.3 L1176 233" stroke="#ecdc40" stroke-width="1.2" fill="none" stroke-linejoin="round" stroke-linecap="round"/>
<path d="M936 314 L948 309 L960 303.2 L950 307 L944.6 311.2 L940 318" stroke="#3caa3c" stroke-width="1.0" fill="none" stroke-linejoin="round" stroke-linecap="round"/>
<path d="M958 262 L954.3 277.3 L952.6 294.6 L945.6 308.4 L938.7 329.1 L939 339.5 L945 341" stroke="#d62020" stroke-width="1.2" fill="none" stroke-linejoin="round" stroke-linecap="round"/>
<path d="M1197 227 L1204 231 L1209 232.5 L1206 240 L1201 248" stroke="#d62020" stroke-width="2.0" fill="none" stroke-linejoin="round" stroke-linecap="round"/>
<path d="M1212 217 L1226.7 212.5" stroke="#45b8c8" stroke-width="2.0" fill="none" stroke-linejoin="round" stroke-linecap="round"/>
</g>
<circle cx="1063.1" cy="117.6" r="9.8" fill="#3a55a6"/><circle cx="940.6" cy="298.3" r="9.8" fill="#3a55a6"/><circle cx="915.5" cy="349.6" r="9.8" fill="#3a55a6"/><circle cx="1089.1" cy="275.6" r="9.8" fill="#3a55a6"/><circle cx="1217.1" cy="219.7" r="9.8" fill="#3a55a6"/><circle cx="1166.2" cy="291.2" r="9.8" fill="#3a55a6"/>
<text x="1077.9" y="124.6" font-weight="bold" font-style="italic" font-size="14" fill="#2e3f98" stroke="#2e3f98" stroke-width="0.45" textLength="72.2" lengthAdjust="spacingAndGlyphs">700-800 db</text>
<text x="957.8" y="287.8" font-weight="bold" font-style="italic" font-size="14" fill="#2e3f98" stroke="#2e3f98" stroke-width="0.45" textLength="79.4" lengthAdjust="spacingAndGlyphs">950-1050 db</text>
<text x="882.6" y="375.9" font-weight="bold" font-style="italic" font-size="14" fill="#2e3f98" stroke="#2e3f98" stroke-width="0.45" textLength="87.2" lengthAdjust="spacingAndGlyphs">1100-1200 db</text>
<text x="1029.5" y="251.9" font-weight="bold" font-style="italic" font-size="14" fill="#2e3f98" stroke="#2e3f98" stroke-width="0.45" textLength="87.4" lengthAdjust="spacingAndGlyphs">1400-1500 db</text>
<text x="1167.9" y="205.1" font-weight="bold" font-style="italic" font-size="14" fill="#2e3f98" stroke="#2e3f98" stroke-width="0.45" textLength="87.7" lengthAdjust="spacingAndGlyphs">2000-2200 db</text>
<text x="1125.4" y="319.9" font-weight="bold" font-style="italic" font-size="14" fill="#2e3f98" stroke="#2e3f98" stroke-width="0.45" textLength="87.5" lengthAdjust="spacingAndGlyphs">2500-2700 db</text>
</svg></body></html>
